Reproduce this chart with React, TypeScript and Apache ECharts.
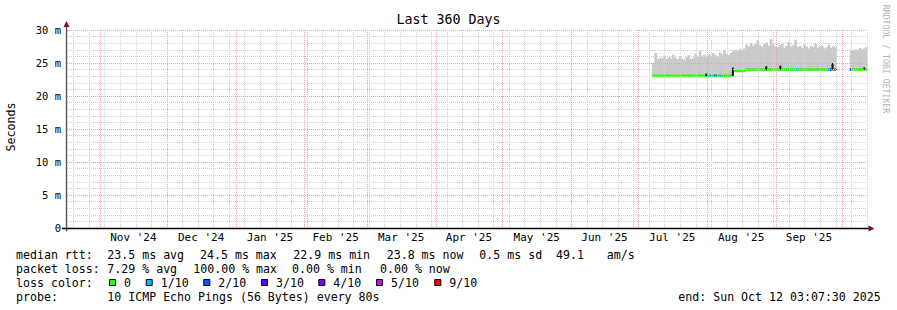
import React, { useEffect, useRef } from "react";
import * as echarts from "echarts";

const DAY = 86400000;
const endTime = Date.UTC(2025, 9, 12, 3, 7, 30);
const rangeDays = 360;
const startTime = endTime - rangeDays * DAY;

const titleText = "Last 360 Days";
const yAxisName = "Seconds";
const watermark = "RRDTOOL / TOBI OETIKER";

const monthStarts = [
  "2024-11-01", "2024-12-01", "2025-01-01", "2025-02-01", "2025-03-01", "2025-04-01",
  "2025-05-01", "2025-06-01", "2025-07-01", "2025-08-01", "2025-09-01", "2025-10-01",
];
const monthLabels = [
  "Nov '24", "Dec '24", "Jan '25", "Feb '25", "Mar '25", "Apr '25",
  "May '25", "Jun '25", "Jul '25", "Aug '25", "Sep '25",
];
const firstWeekLine = "2024-10-20";

// one sample per day starting here
const sampleStart = Date.UTC(2025, 6, 7, 10, 0, 0);

const smokeMax: (number | null)[] = [
  25.0, 26.5, 25.6, 25.8, 25.7, 26.1, 25.6, 25.9, 25.7, 26.3,
  25.8, 25.6, 26.0, 25.7, 25.5, 25.9, 26.2, 25.6, 25.8, 26.4,
  25.9, 26.8, 26.0, 26.2, 25.9, 26.3, 26.1, 26.5, 26.2, 26.0,
  26.6, 26.3, 26.9, 26.4, 26.2, 26.5,
  26.9, 27.0, 26.8, 27.1, 26.9, 27.2, 27.8, 27.5, 28.0, 27.6,
  27.9, 28.4, 27.7, 27.5, 27.9, 28.1, 27.6, 28.6, 27.8, 27.5,
  27.4, 27.7, 27.9, 27.3, 27.6, 28.2, 27.5, 27.7, 28.5, 27.4,
  27.6, 27.3, 27.8, 27.5, 27.2, 27.6, 27.4, 27.9, 27.3, 27.5,
  27.6, 27.2, 27.4, 27.8, 27.3, 27.5, 27.4,
  null, null, null, null, null, null,
  27.0, 26.9, 27.1, 27.0, 27.3, 27.1, 27.2, 27.4,
];

const medianRtt: (number | null)[] = [
  23.05, 23.05, 23.05, 23.05, 23.05, 23.05, 23.05, 23.05, 23.05, 23.05,
  23.05, 23.05, 23.05, 23.05, 23.05, 23.05, 23.05, 23.05, 23.05, 23.05,
  23.05, 23.05, 23.05, 23.05, 23.05, 23.05, 23.05, 23.05, 23.05, 23.05,
  23.05, 23.05, 23.05, 23.05, 23.05, 23.05,
  23.8, 23.8, 23.8, 23.8, 23.8, 23.8, 24.0, 24.0, 24.0, 24.0,
  24.0, 24.0, 24.0, 24.0, 24.0, 24.0, 24.0, 24.0, 24.0, 24.0,
  24.0, 24.0, 24.0, 24.0, 24.0, 24.0, 24.0, 24.0, 24.0, 24.0,
  24.0, 24.0, 24.0, 24.0, 24.0, 24.0, 24.0, 24.0, 24.0, 24.0,
  24.0, 24.0, 24.0, 24.0, 24.0, 24.0, 24.0,
  null, null, null, null, null, null,
  24.0, 24.0, 24.0, 24.0, 24.0, 24.0, 24.0, 24.0,
];

const lossClass: (number | null)[] = [
  0, 0, 0, 0, 0, 0, 0, 0, 0, 0,
  0, 0, 0, 0, 0, 0, 0, 0, 0, 0,
  0, 0, 0, 0, 0, 0, 1, 0, 2, 0,
  1, 0, 0, 0, 0, 0,
  0, 0, 0, 0, 0, 0, 0, 0, 0, 0,
  0, 0, 0, 0, 0, 0, 0, 0, 0, 0,
  0, 0, 0, 0, 0, 0, 0, 0, 0, 1,
  0, 0, 0, 0, 0, 0, 0, 0, 0, 0,
  0, 0, 0, 1, 2, 0, 6,
  null, null, null, null, null, null,
  3, 0, 0, 0, 0, 0, 0, 0,
];

// short dark vertical marks: [time, low, high]
const stepMarks: [string, number, number][] = [
  ["2025-07-31T19:00:00Z", 23.0, 23.4],
  ["2025-08-12T19:00:00Z", 23.05, 24.3],
  ["2025-08-27T19:00:00Z", 23.9, 24.5],
  ["2025-09-03T03:00:00Z", 24.0, 24.6],
  ["2025-09-26T15:00:00Z", 24.0, 25.0],
  ["2025-10-10T22:00:00Z", 24.0, 24.3],
];

const lossColors = ["#26ff00", "#00b8ff", "#0059ff", "#5e00ff", "#7e00ff", "#dd00ff", "#ff0000"];
const lossLabels = ["0", "1/10", "2/10", "3/10", "4/10", "5/10", "9/10"];

const rttLabel = "median rtt:";
const rttStats = ["23.5 ms avg", "24.5 ms max", "22.9 ms min", "23.8 ms now", "0.5 ms sd", "49.1", "am/s"];
const lossLabel = "packet loss:";
const lossStats = ["7.29 % avg", "100.00 % max", "0.00 % min", "0.00 % now"];
const colorLabel = "loss color:";
const probeLabel = "probe:";
const probeText = "10 ICMP Echo Pings (56 Bytes) every 80s";
const endText = "end: Sun Oct 12 03:07:30 2025";

// layout
const FONT = '"DejaVu Sans Mono", monospace';
const rttX = [107.3, 200, 293.3, 386.7, 479.3, 556, 606.7];
const lossX = [107.3, 193.3, 292, 380];
const boxX = [109, 145.7, 203.3, 261, 318.3, 376, 434.3];
const rowY = [255, 268.5, 282.5, 296.5];

function buildOption() {
  const ts = (s: string) => new Date(s.length === 10 ? s + "T00:00:00Z" : s).getTime();
  const monthTs = monthStarts.map(ts);
  const labelValues: number[] = [];
  const labelMap = new Map<number, string>();
  monthLabels.forEach((lab, i) => {
    const v = Math.round((monthTs[i] + monthTs[i + 1]) / 2);
    labelValues.push(v);
    labelMap.set(v, lab);
  });
  const weekLines: number[][] = [];
  for (let t = ts(firstWeekLine); t <= endTime; t += 7 * DAY) weekLines.push([t, 0]);
  const monthLines = monthTs.map((t) => [t, 0]);

  const smokeData: number[][] = [];
  const medianData: number[][] = [];
  smokeMax.forEach((v, i) => {
    const t0 = sampleStart + i * DAY;
    const t1 = Math.min(sampleStart + (i + 1) * DAY, endTime);
    const m = medianRtt[i];
    if (v != null && m != null) smokeData.push([t0, t1, m, v]);
    if (m != null) medianData.push([t0, t1, m, lossClass[i] ?? 0]);
  });
  const markData = stepMarks.map(([s, lo, hi]) => [ts(s), lo, hi]);

  const vLine = (color: string) => (params: any, api: any) => {
    const cs = params.coordSys;
    const x = Math.round(api.coord([api.value(0), 0])[0]) + 0.5;
    return {
      type: "line",
      shape: { x1: x, y1: cs.y, x2: x, y2: cs.y + cs.height },
      style: { stroke: color, lineWidth: 1, lineDash: [1, 1] },
    };
  };

  const graphic: any[] = [];
  const txt = (text: string, x: number, y: number, extra: any = {}) =>
    graphic.push({
      type: "text",
      x,
      y,
      z: 20,
      ...extra,
      style: {
        text,
        font: `11.6px ${FONT}`,
        fill: "#000",
        textAlign: "left",
        textVerticalAlign: "middle",
        ...(extra.style || {}),
      },
    });
  txt(titleText, 448.5, 19, { style: { font: `13.3px ${FONT}`, textAlign: "center" } });
  txt(yAxisName, 11, 127, { rotation: Math.PI / 2, style: { textAlign: "center" } });
  txt(watermark, 886, 59, {
    rotation: -Math.PI / 2,
    style: { font: `8.2px ${FONT}`, fill: "#b4b4b4", textAlign: "center" },
  });
  txt(rttLabel, 16, rowY[0]);
  rttStats.forEach((s, i) => txt(s, rttX[i], rowY[0]));
  txt(lossLabel, 16, rowY[1]);
  lossStats.forEach((s, i) => txt(s, lossX[i], rowY[1]));
  txt(colorLabel, 16, rowY[2]);
  lossLabels.forEach((s, i) => {
    graphic.push({
      type: "rect",
      z: 20,
      shape: { x: boxX[i] + 0.5, y: rowY[2] - 3, width: 6, height: 6 },
      style: { fill: lossColors[i], stroke: "#000", lineWidth: 1 },
    });
    txt(s, boxX[i] + 15, rowY[2]);
  });
  txt(probeLabel, 16, rowY[3]);
  txt(probeText, 107.3, rowY[3]);
  txt(endText, 678.3, rowY[3]);

  // axes lines + arrows
  graphic.push(
    { type: "line", z: 20, shape: { x1: 66.5, y1: 231.5, x2: 66.5, y2: 24 }, style: { stroke: "#555", lineWidth: 1.4 } },
    { type: "line", z: 20, shape: { x1: 62, y1: 228.5, x2: 869, y2: 228.5 }, style: { stroke: "#000", lineWidth: 1.6 } },
    { type: "polygon", z: 21, shape: { points: [[63.5, 27], [66.5, 21], [69.5, 27]] }, style: { fill: "#7a1414" } },
    { type: "polygon", z: 21, shape: { points: [[868.5, 225.5], [874.5, 228.5], [868.5, 231.5]] }, style: { fill: "#7a1414" } }
  );

  return {
    animation: false,
    backgroundColor: "#ffffff",
    grid: { left: 67, right: 30, top: 30, bottom: 82, containLabel: false },
    xAxis: {
      type: "value",
      min: startTime,
      max: endTime,
      axisLine: { show: false },
      axisTick: { show: false },
      splitLine: { show: false },
      axisLabel: {
        customValues: labelValues,
        margin: 4,
        fontFamily: FONT,
        fontSize: 11,
        color: "#000",
        formatter: (v: number) => labelMap.get(Math.round(v)) ?? "",
      },
    },
    yAxis: {
      type: "value",
      min: 0,
      max: 30,
      interval: 5,
      z: 6,
      axisLine: { show: false },
      axisTick: { show: false },
      axisLabel: {
        margin: 6,
        fontFamily: FONT,
        fontSize: 10.5,
        color: "#000",
        formatter: (v: number) => (v === 0 ? "0" : `${v} m`),
      },
      splitLine: { show: true, lineStyle: { color: "#eaa0a0", width: 1, type: [1, 1] } },
      minorTick: { show: false, splitNumber: 5 },
      minorSplitLine: { show: true, lineStyle: { color: "#cfcfcf", width: 1, type: [1, 1] } },
    },
    series: [
      {
        type: "custom",
        name: "smoke",
        z: 1,
        data: smokeData,
        encode: { x: [0, 1], y: [2, 3] },
        renderItem: (params: any, api: any) => {
          const a = api.coord([api.value(0), api.value(3)]);
          const b = api.coord([api.value(1), api.value(2)]);
          return {
            type: "rect",
            shape: { x: a[0], y: a[1], width: b[0] - a[0] + 0.4, height: b[1] - a[1] },
            style: { fill: "#c9c9c9" },
          };
        },
      },
      {
        type: "custom",
        name: "median",
        z: 2,
        data: medianData,
        encode: { x: [0, 1], y: 2 },
        renderItem: (params: any, api: any) => {
          const a = api.coord([api.value(0), api.value(2)]);
          const b = api.coord([api.value(1), api.value(2)]);
          return {
            type: "rect",
            shape: { x: a[0], y: a[1] - 1.3, width: b[0] - a[0] + 0.3, height: 2.6 },
            style: { fill: lossColors[api.value(3)] },
          };
        },
      },
      {
        type: "custom",
        name: "marks",
        z: 3,
        data: markData,
        encode: { x: 0, y: [1, 2] },
        renderItem: (params: any, api: any) => {
          const a = api.coord([api.value(0), api.value(2)]);
          const b = api.coord([api.value(0), api.value(1)]);
          return {
            type: "rect",
            shape: { x: a[0] - 1, y: a[1], width: 2, height: b[1] - a[1] },
            style: { fill: "#111" },
          };
        },
      },
      {
        type: "custom",
        name: "weeks",
        z: 6,
        silent: true,
        data: weekLines,
        encode: { x: 0, y: 1 },
        renderItem: vLine("#cfcfcf"),
      },
      {
        type: "custom",
        name: "months",
        z: 7,
        silent: true,
        data: monthLines,
        encode: { x: 0, y: 1 },
        renderItem: vLine("#eaa0a0"),
      },
    ],
    graphic,
  };
}

export default function App() {
  const ref = useRef<HTMLDivElement>(null);
  useEffect(() => {
    const chart = echarts.init(ref.current!, null, { renderer: "svg" });
    chart.setOption(buildOption() as any);
    return () => chart.dispose();
  }, []);
  return (
    <div
      ref={ref}
      style={{ position: "fixed", left: 0, top: 0, width: 897, height: 310, background: "#fff" }}
    />
  );
}
